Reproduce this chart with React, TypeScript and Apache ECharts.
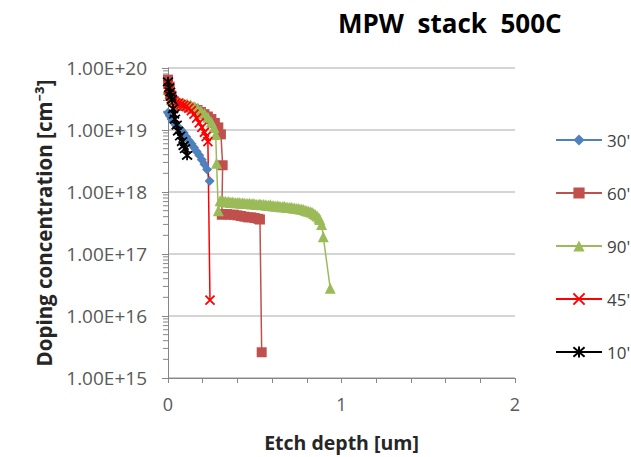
import React, { useEffect, useRef } from "react";
import * as echarts from "echarts";

const titleText = "MPW  stack  500C";
const xAxisTitle = "Etch depth [um]";
const yAxisTitle = "Doping concentration [cm⁻³]";
const seriesNames = ["30'", "60'", "90'", "45'", "10'"];
const seriesColors = ["#4F81BD", "#C0504D", "#9BBB59", "#FF0000", "#000000"];

// [depth (um), concentration (cm^-3)]
const data30: number[][] = [
  [0, 1.9e19], [0.01, 1.7e19], [0.02, 1.5e19], [0.03, 1.35e19], [0.045, 1.2e19],
  [0.06, 1.1e19], [0.075, 1.0e19], [0.09, 9.0e18], [0.105, 7.8e18], [0.12, 6.8e18],
  [0.135, 6.0e18], [0.15, 5.2e18], [0.165, 4.5e18], [0.18, 3.9e18], [0.195, 3.3e18],
  [0.21, 2.8e18], [0.225, 2.3e18], [0.24, 1.5e18],
];

const data60: number[][] = [
  [0, 6.5e19], [0.01, 5.0e19], [0.02, 3.6e19], [0.035, 2.9e19], [0.05, 2.6e19],
  [0.07, 2.5e19], [0.09, 2.45e19], [0.11, 2.4e19], [0.13, 2.3e19], [0.15, 2.2e19],
  [0.17, 2.1e19], [0.19, 1.95e19], [0.21, 1.8e19], [0.23, 1.65e19], [0.25, 1.5e19],
  [0.27, 1.3e19], [0.29, 1.1e19], [0.305, 8.5e18], [0.315, 2.7e18],
  [0.31, 4.3e17], [0.32, 4.4e17], [0.34, 4.4e17], [0.36, 4.3e17], [0.38, 4.3e17],
  [0.40, 4.2e17], [0.42, 4.1e17], [0.44, 4.0e17], [0.46, 3.9e17], [0.48, 3.9e17],
  [0.50, 3.8e17], [0.52, 3.7e17], [0.53, 3.6e17], [0.54, 2.6e15],
];

const data90: number[][] = [
  [0, 4.5e19], [0.01, 3.6e19], [0.02, 3.1e19], [0.035, 2.9e19], [0.05, 2.8e19],
  [0.07, 2.75e19], [0.09, 2.7e19], [0.11, 2.65e19], [0.13, 2.55e19], [0.15, 2.4e19],
  [0.17, 2.25e19], [0.19, 2.05e19], [0.21, 1.85e19], [0.23, 1.6e19], [0.25, 1.35e19],
  [0.265, 1.1e19], [0.275, 8.5e18], [0.28, 2.9e18], [0.29, 5.0e17],
  [0.30, 7.2e17], [0.31, 7.4e17], [0.32, 7.0e17], [0.33, 7.1e17], [0.34, 6.9e17],
  [0.35, 7.0e17], [0.36, 6.8e17], [0.37, 6.9e17], [0.38, 6.8e17], [0.39, 6.7e17],
  [0.40, 6.7e17], [0.41, 6.8e17], [0.42, 6.6e17], [0.43, 6.7e17], [0.44, 6.6e17],
  [0.45, 6.5e17], [0.46, 6.5e17], [0.47, 6.6e17], [0.48, 6.4e17], [0.49, 6.5e17],
  [0.50, 6.4e17], [0.51, 6.3e17], [0.52, 6.3e17], [0.53, 6.4e17], [0.54, 6.2e17],
  [0.55, 6.3e17], [0.56, 6.2e17], [0.57, 6.1e17], [0.58, 6.1e17], [0.59, 6.2e17],
  [0.60, 6.0e17], [0.61, 6.0e17], [0.62, 5.9e17], [0.63, 6.0e17], [0.64, 5.9e17],
  [0.65, 5.8e17], [0.66, 5.8e17], [0.67, 5.9e17], [0.68, 5.7e17], [0.69, 5.7e17],
  [0.70, 5.6e17], [0.71, 5.7e17], [0.72, 5.5e17], [0.73, 5.5e17], [0.74, 5.4e17],
  [0.75, 5.4e17], [0.76, 5.3e17], [0.77, 5.3e17], [0.78, 5.2e17], [0.79, 5.1e17],
  [0.80, 5.0e17], [0.81, 4.9e17], [0.82, 4.8e17], [0.83, 4.7e17], [0.84, 4.5e17],
  [0.85, 4.3e17], [0.86, 4.1e17], [0.87, 3.8e17], [0.875, 3.6e17], [0.885, 3.0e17],
  [0.895, 1.9e17], [0.935, 2.8e16],
];

const data45: number[][] = [
  [0, 5.5e19], [0.005, 4.5e19], [0.01, 3.8e19], [0.02, 3.2e19], [0.03, 2.9e19],
  [0.045, 2.75e19], [0.06, 2.7e19], [0.075, 2.6e19], [0.09, 2.5e19], [0.105, 2.4e19],
  [0.12, 2.25e19], [0.135, 2.05e19], [0.15, 1.8e19], [0.165, 1.55e19], [0.18, 1.3e19],
  [0.195, 1.1e19], [0.21, 9.2e18], [0.22, 7.8e18], [0.23, 6.5e18], [0.242, 1.8e16],
];

const data10: number[][] = [
  [0, 6.0e19], [0.006, 4.8e19], [0.012, 4.1e19], [0.018, 3.5e19], [0.023, 3.1e19],
  [0.029, 2.2e19], [0.035, 1.8e19], [0.04, 1.5e19], [0.05, 1.2e19], [0.058, 9.6e18],
  [0.07, 8.0e18], [0.081, 6.5e18], [0.09, 5.6e18], [0.098, 5.0e18], [0.11, 3.9e18],
];

const yMin = 1e15;
const yMax = 1e20;
const xMin = 0;
const xMax = 2;
const xInterval = 1;
const logDecades = [15, 16, 17, 18, 19];
const logMinorMultipliers = [2, 3, 4, 5, 6, 7, 8, 9];

const FONT = "'Open Sans', 'Noto Sans', sans-serif";
const crossPath = "path://M-5,-5L5,5M-5,5L5,-5";
const starPath = "path://M-5,-5L5,5M-5,5L5,-5M0,-6L0,6";

export default function App() {
  const ref = useRef<HTMLDivElement>(null);
  useEffect(() => {
    if (!ref.current) return;
    const chart = echarts.init(ref.current, undefined, { renderer: "svg" });

    const minorTickData: number[][] = [];
    logDecades.forEach((d) =>
      logMinorMultipliers.forEach((m) => minorTickData.push([xMin, m * Math.pow(10, d)]))
    );

    const lineSeries = (
      idx: number,
      data: number[][],
      symbol: string,
      symbolSize: number,
      stroked: boolean
    ) => ({
      name: seriesNames[idx],
      type: "line",
      data,
      symbol,
      symbolSize,
      showSymbol: true,
      lineStyle: { color: seriesColors[idx], width: 1.5 },
      itemStyle: {
        color: stroked ? "transparent" : seriesColors[idx],
        borderColor: seriesColors[idx],
        borderWidth: stroked ? 1.8 : 0,
      },
      emphasis: { disabled: true },
    });

    chart.setOption({
      animation: false,
      backgroundColor: "#ffffff",
      textStyle: { fontFamily: FONT },
      title: {
        text: titleText,
        left: 333,
        top: 5,
        textStyle: { fontFamily: FONT, fontSize: 26, fontWeight: "bold", color: "#000000" },
      },
      legend: {
        orient: "vertical",
        left: 550,
        top: 125,
        itemWidth: 46,
        itemHeight: 14,
        itemGap: 33,
        data: seriesNames,
        textStyle: { fontFamily: FONT, fontSize: 17, color: "#404040", lineHeight: 20 },
        selectedMode: false,
      },
      grid: { left: 168, right: 116, top: 68, bottom: 74, containLabel: false },
      xAxis: {
        type: "value",
        min: xMin,
        max: xMax,
        interval: xInterval,
        name: xAxisTitle,
        nameLocation: "middle",
        nameGap: 54,
        nameTextStyle: { fontFamily: FONT, fontSize: 19.5, fontWeight: "bold", color: "#262626" },
        axisLine: { show: true, lineStyle: { color: "#868686", width: 1 } },
        axisTick: { show: true, length: 5, lineStyle: { color: "#868686" } },
        minorTick: { show: true, splitNumber: 5, length: 5, lineStyle: { color: "#868686" } },
        splitLine: { show: false },
        axisLabel: { fontFamily: FONT, fontSize: 18, color: "#595959", margin: 17 },
      },
      yAxis: {
        type: "log",
        logBase: 10,
        min: yMin,
        max: yMax,
        name: yAxisTitle,
        nameLocation: "middle",
        nameGap: 114,
        nameTextStyle: {
          fontFamily: FONT,
          fontSize: 20.5,
          fontWeight: "bold",
          color: "#262626",
        },
        axisLine: { show: true, lineStyle: { color: "#868686", width: 1 } },
        axisTick: { show: true, length: 6, lineStyle: { color: "#868686" } },
        splitLine: { show: true, lineStyle: { color: "#C6C6C6", width: 1.5 } },
        axisLabel: {
          fontFamily: FONT,
          fontSize: 19,
          color: "#595959",
          margin: 21,
          formatter: (v: number) => v.toExponential(2).toUpperCase(),
        },
      },
      series: [
        {
          name: "minorTicks",
          type: "custom",
          silent: true,
          clip: false,
          data: minorTickData,
          renderItem: (params: any, api: any) => {
            const p = api.coord([api.value(0), api.value(1)]);
            return {
              type: "line",
              shape: { x1: p[0] - 5, y1: p[1], x2: p[0], y2: p[1] },
              style: { stroke: "#868686", lineWidth: 1 },
            };
          },
          z: 1,
        },
        lineSeries(0, data30, "diamond", 10, false),
        lineSeries(1, data60, "rect", 10, false),
        lineSeries(2, data90, "triangle", 11, false),
        lineSeries(3, data45, crossPath, 9, true),
        lineSeries(4, data10, starPath, 10, true),
      ],
    });
    return () => chart.dispose();
  }, []);
  return (
    <div
      ref={ref}
      style={{ position: "fixed", left: 0, top: 0, width: 631, height: 457 }}
    />
  );
}
